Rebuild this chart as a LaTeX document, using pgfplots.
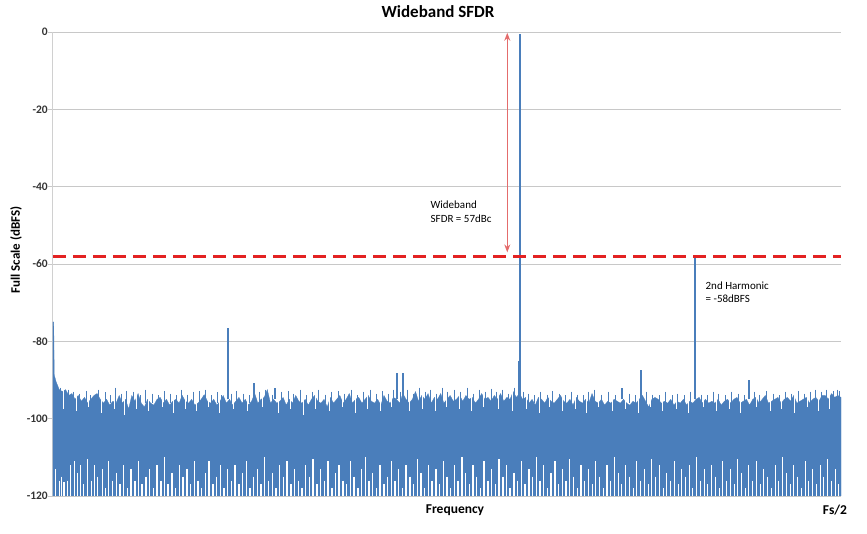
\documentclass[border=0pt]{standalone}
\usepackage{fontspec}
\setmainfont{Carlito}
\usepackage{pgfplots}
\pgfplotsset{compat=1.18}
\usetikzlibrary{arrows.meta}
\definecolor{sblue}{HTML}{4A7EBB}
\definecolor{sred}{HTML}{E32222}
\definecolor{ared}{HTML}{E46C6C}
\definecolor{gridc}{HTML}{C8C8C8}
\definecolor{axc}{HTML}{D0D0D0}
\begin{document}
\begin{tikzpicture}
\useasboundingbox (-53pt,-38pt) rectangle (814pt,496pt);
\begin{axis}[
  at={(0pt,0pt)}, anchor=south west,
  scale only axis, width=788pt, height=464pt,
  xmin=0, xmax=1000, ymin=-120, ymax=0,
  axis x line=none, axis y line*=left,
  y axis line style={-, draw=axc, line width=1pt},
  ytick={-120,-100,-80,-60,-40,-20,0},
  yticklabels={-120,-100,-80,-60,-40,-20,0},
  yticklabel style={font=\fontsize{11.5}{12}\selectfont\bfseries, text=black!80, anchor=east, inner sep=0pt},
  ymajorgrids, grid style={draw=gridc, line width=0.8pt},
  tick align=outside, major tick length=5pt, ytick style={draw=gridc, line width=0.8pt},
  clip=false,
]
% noise floor (upper envelope, filled down to -120)
\addplot[fill=sblue, draw=sblue, line width=0.3pt, forget plot] coordinates {
(0,-120)(0,-75)(0.9,-75)(1.6,-88.7)(4,-90.5)(8,-92.5)(12,-93)(16,-92.5)(20,-94)(24,-93.5)(28,-95)(32,-94)(36,-95.5)
(40,-94.5)(44,-96)(48,-95)(52,-94)(56,-93.5)(60,-95)(64,-96)(68,-95)(72,-96.5)(76,-95.5)
(80,-96)(84,-94)(88,-96)(92,-95)(96,-97.5)(100,-94)(104,-95.5)(108,-93.5)(112,-96)(116,-97)
(120,-95)(124,-96)(128,-96.5)(132,-95)(136,-94.5)(140,-96)(144,-95)(148,-96.5)(152,-95.5)(156,-95)
(160,-96)(164,-94)(168,-95.5)(172,-96)(176,-95)(180,-96.5)(184,-96)(188,-95)(192,-93.8)(196,-95.5)
(200,-96)(204,-95)(208,-96.5)(212,-95.5)(216,-94)(220,-96)(224,-95)(228,-96.5)(232,-95.5)(236,-94.5)
(240,-96)(244,-95)(248,-96.5)(252,-95.5)(256,-93.5)(260,-96)(264,-95)(268,-94.5)(272,-92.5)(276,-96)
(280,-95)(284,-96)(288,-95.5)(292,-94.5)(296,-96.5)(300,-95)(304,-96)(308,-94)(312,-95.5)(316,-96)
(320,-95)(324,-96.5)(328,-95)(332,-94)(336,-95.5)(340,-96)(344,-95)(348,-97)(352,-94.5)(356,-96)
(360,-95)(364,-94)(368,-96)(372,-95)(376,-93.5)(380,-96)(384,-95)(388,-94.5)(392,-96)(396,-95)
(400,-94)(404,-95.5)(408,-96)(412,-95)(416,-96.5)(420,-94)(424,-95.5)(428,-96)(432,-94.5)(436,-95)
(440,-96)(444,-93.5)(448,-95)(452,-96)(456,-95)(460,-93)(464,-95.5)(468,-94)(472,-95)(476,-93.5)
(480,-96)(484,-94.5)(488,-95)(492,-93.5)(496,-96)(500,-95)(504,-94)(508,-95.5)(512,-95)(516,-94)
(520,-95.5)(524,-94)(528,-95)(532,-94.5)(536,-96)(540,-95)(544,-93.5)(548,-95)(552,-94.5)(556,-95.5)
(560,-94)(564,-95)(568,-93.5)(572,-95.5)(576,-94.5)(580,-95)(584,-93)(588,-94.5)(592,-93.5)(596,-95)
(600,-94.5)(604,-96)(608,-95)(612,-96.5)(616,-94.5)(620,-95)(624,-96)(628,-94.5)(632,-95.5)(636,-96)
(640,-95)(644,-94)(648,-95.5)(652,-96)(656,-95)(660,-96.5)(664,-94.5)(668,-95.5)(672,-96)(676,-95)
(680,-96)(684,-93.5)(688,-95.5)(692,-96)(696,-95)(700,-96.5)(704,-95.5)(708,-96)(712,-95)(716,-95.5)
(720,-96)(724,-95)(728,-96)(732,-96.5)(736,-95.5)(740,-96)(744,-95)(748,-94)(752,-95.5)(756,-97)
(760,-95)(764,-94.5)(768,-95)(772,-96)(776,-95.5)(780,-96)(784,-95)(788,-96.5)(792,-95.5)(796,-96)
(800,-95)(804,-96.5)(808,-95.5)(812,-96)(816,-95)(820,-94.5)(824,-96)(828,-95)(832,-96)(836,-95.5)
(840,-96)(844,-95)(848,-96.5)(852,-95.5)(856,-95)(860,-96)(864,-95)(868,-94.5)(872,-96)(876,-95.5)
(880,-95)(884,-96.5)(888,-95)(892,-94.5)(896,-96)(900,-95)(904,-94)(908,-96)(912,-95.5)(916,-95)
(920,-94.5)(924,-96)(928,-95)(932,-94.5)(936,-95.5)(940,-94)(944,-96)(948,-95.5)(952,-95)(956,-94.5)
(960,-96)(964,-95)(968,-94.5)(972,-95.5)(976,-94)(980,-94)(984,-95)(988,-93.5)(992,-94.5)(996,-94)
(1000,-94.5)(1000,-120)
};
% dips at the top of the noise (white notches)
\addplot[draw=none, mark=none, forget plot,
  error bars/.cd, y dir=plus, y explicit,
  error bar style={draw=white, solid, line width=1pt}, error mark=none]
  table[x=x, y=y, y error expr=-91-\thisrow{y}] {
x y
13 -97.5
30 -98
45 -97
61 -98.5
78 -97.5
91 -99
106 -97.5
121 -98
139 -97
153 -98.5
168 -97.5
182 -98
197 -97
211 -98.5
229 -97.5
247 -98
266 -97
286 -98.5
301 -97.5
318 -99
333 -97.5
351 -98
367 -97
384 -98.5
399 -97.5
416 -98
430 -97
452 -98
469 -97.5
485 -98
499 -97
516 -97.5
531 -98
546 -97
565 -97.5
583 -98
601 -97.5
617 -98.5
630 -97
646 -98
663 -97.5
677 -98.5
692 -97
710 -98
726 -97.5
743 -98.5
758 -97
773 -98
791 -97.5
806 -98.5
826 -97
842 -98
858 -97.5
873 -98.5
893 -97
910 -98
925 -97.5
941 -98.5
957 -97
972 -98
986 -97.5
};
% fine peaks at the top of the noise
\addplot[draw=none, mark=none, forget plot,
  error bars/.cd, y dir=minus, y explicit,
  error bar style={draw=sblue, solid, line width=0.9pt}, error mark=none]
  table[x=x, y=y, y error expr=\thisrow{y}+96] {
x y
6 -91.5
10 -92
19 -92.5
26 -93
34 -93.5
42 -92.8
47 -94
58 -92.5
66 -93.2
73 -94
79 -92
87 -93.5
93 -92.8
102 -93
111 -94
117 -92.5
126 -93.5
134 -94
141 -92.8
149 -93.5
157 -94
163 -92.5
171 -93.8
178 -93
186 -92.8
194 -92.5
201 -94
209 -93.2
214 -94
226 -93.5
233 -92.8
242 -93.5
249 -94
262 -93
270 -92.5
279 -93.8
290 -93
299 -92.8
305 -93.5
314 -92.5
322 -94
329 -93
337 -92.5
346 -93.8
353 -93
362 -92.8
370 -93.5
379 -92.5
386 -94
394 -93
403 -92.5
411 -93.5
418 -92.8
426 -93.5
432 -92.5
441 -93
450 -92.5
457 -93.5
465 -92
473 -93
479 -92.5
487 -93.5
494 -92
501 -93
510 -92.5
517 -93
526 -92
534 -93.5
541 -92.5
549 -93
556 -92.2
563 -93
570 -92.5
578 -93.5
586 -92
597 -93
603 -93.5
611 -94
619 -93
627 -93.8
634 -92.8
643 -93.5
650 -94
658 -93
665 -93.8
673 -94
679 -93
687 -92.5
696 -93.8
705 -93
714 -94
731 -93.5
739 -94
753 -93
761 -93.8
769 -94
777 -93
786 -94
793 -93.5
801 -94
809 -93
823 -93.8
830 -94
838 -93
845 -93.5
853 -94
861 -93
870 -93.5
877 -94
890 -93
897 -93.8
905 -92.8
914 -93.5
922 -94
929 -93
937 -93.5
946 -92.8
953 -93.5
961 -93
967 -92.5
975 -93
982 -92.5
990 -92.8
995 -92.5
998 -92.8
};
% low excursions of the noise (white gaps at the bottom)
\addplot[draw=none, mark=none, forget plot,
  error bars/.cd, y dir=minus, y explicit,
  error bar style={draw=white, solid, line width=1.1pt}, error mark=none]
  table[x=x, y=y, y error expr=\thisrow{y}+120] {
x y
3 -113
8 -116
11 -115
14 -116.5
18 -116
22 -112
27 -111
31 -114
35 -112
39 -117
44 -110.5
49 -116
53 -112
57 -115
63 -113
67 -118
71 -111
76 -116
81 -114
85 -117
89 -112
95 -118
99 -113
104 -116
109 -111
113 -117
118 -115
123 -113
128 -118
132 -112
137 -116
142 -110
146 -117
151 -114
156 -118
160 -112
165 -115
170 -113
175 -117
179 -111
184 -116
189 -118
193 -114
198 -111
203 -117
207 -115
212 -112
217 -118
221 -113
226 -116
231 -112
236 -117
240 -114
245 -111
250 -118
254 -115
259 -113
264 -117
268 -110
273 -116
278 -114
283 -118
287 -112
292 -115
297 -111
302 -117
306 -113
311 -116
316 -118
320 -112
325 -115
330 -110.5
335 -117
339 -113
344 -116
349 -111
354 -118
358 -114
363 -112
368 -116
373 -117
377 -111
382 -115
387 -118
391 -113
396 -110
401 -116
406 -114
410 -118
415 -112
420 -117
424 -115
429 -111
434 -116
439 -113
444 -118
448 -112
453 -115
458 -117
462 -110.5
467 -114
472 -118
476 -112
481 -116
486 -113
491 -117
495 -111
500 -115
505 -118
509 -112
514 -116
519 -110
523 -114
528 -117
533 -112
538 -115
542 -118
547 -111
552 -116
557 -113
561 -117
566 -110.5
571 -115
576 -112
580 -118
585 -114
590 -116
595 -111
599 -117
604 -113
609 -115
614 -110
618 -116
623 -112
628 -118
632 -114
637 -111
642 -117
647 -113
651 -116
656 -110.5
661 -115
666 -118
670 -112
675 -116
680 -113
685 -117
689 -111
694 -115
699 -118
703 -112
708 -116
713 -110
718 -114
722 -117
727 -112
732 -115
737 -118
741 -111
746 -116
751 -113
756 -117
760 -110.5
765 -115
770 -112
775 -118
779 -114
784 -116
789 -111
794 -117
798 -113
803 -115
808 -112
812 -118
817 -110
822 -116
827 -113
831 -117
836 -112
841 -115
846 -118
850 -111
855 -116
860 -113
865 -117
869 -110.5
874 -114
879 -118
883 -112
888 -116
893 -111
898 -117
902 -113
907 -115
912 -118
917 -112
921 -116
926 -110
931 -114
936 -117
940 -112
945 -115
950 -118
955 -111
959 -116
964 -113
969 -117
974 -112
978 -115
983 -110.5
988 -116
993 -113
997 -117
};
% spurs and tones
\addplot[sblue, line width=1.5pt, unbounded coords=jump, forget plot] coordinates {
(222,-95)(222,-76.5) (nan,nan)
(255,-95)(255,-90.8) (nan,nan)
(282,-95)(282,-92) (nan,nan)
(436.5,-95)(436.5,-88.3) (nan,nan)
(444,-95)(444,-88.3) (nan,nan)
(591.6,-95)(591.6,-85) (nan,nan)
(592.5,-95)(592.5,-0.5) (nan,nan)
(722,-95)(722,-92) (nan,nan)
(746,-95)(746,-87.4) (nan,nan)
(815,-95)(815,-58) (nan,nan)
(883,-95)(883,-90)
};
\draw[gridc, line width=0.8pt] (axis cs:0,-120) -- (axis cs:1000,-120);
% SFDR limit
\addplot[sred, line width=3pt, dash pattern=on 13pt off 7pt, forget plot] coordinates {(0,-58)(1000,-58)};
\draw[ared, line width=1.2pt, {Stealth[length=8pt,width=6pt]}-{Stealth[length=8pt,width=6pt]}] (axis cs:576.5,-0.2) -- (axis cs:576.5,-57);
\node[anchor=west, align=left, font=\fontsize{11}{14}\selectfont, inner sep=0pt] at (axis cs:479,-46.5) {Wideband\\SFDR = 57dBc};
\node[anchor=west, align=left, font=\fontsize{11}{13}\selectfont, inner sep=0pt] at (axis cs:828,-67.4) {2nd Harmonic\\= -58dBFS};
\end{axis}
\node[font=\fontsize{17}{20}\selectfont\bfseries] at (385pt,484pt) {Wideband SFDR};
\node[font=\fontsize{13.5}{16}\selectfont\bfseries] at (402pt,-14pt) {Frequency};
\node[font=\fontsize{13.5}{16}\selectfont\bfseries] at (782pt,-14pt) {Fs/2};
\node[rotate=90, font=\fontsize{13}{16}\selectfont\bfseries] at (-37pt,246pt) {Full Scale (dBFS)};
\end{tikzpicture}
\end{document}
